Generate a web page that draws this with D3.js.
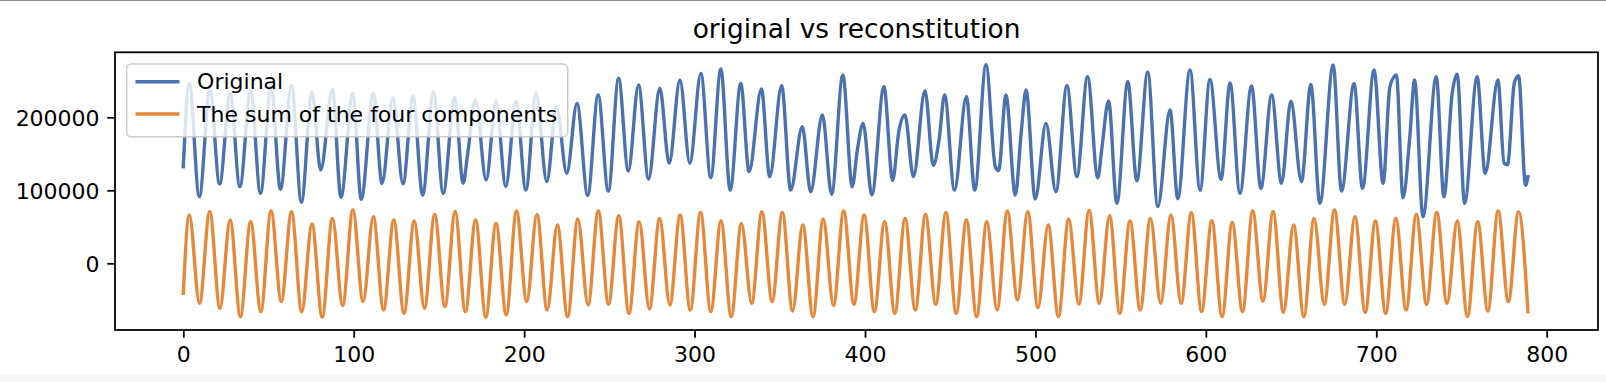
<!DOCTYPE html>
<html><head><meta charset="utf-8">
<script src="https://cdn.jsdelivr.net/npm/d3@7"></script>
<style>body{margin:0;background:#fff;} svg{display:block;font-family:"DejaVu Sans",sans-serif;}</style>
</head><body><svg id="chart" width="1606" height="382"></svg>
<script>
const chartTitle = "original vs reconstitution";
const seriesNames = ["Original", "The sum of the four components"];
const xTicks = [0, 100, 200, 300, 400, 500, 600, 700, 800];
const yTicks = [0, 100000, 200000];

// Original series: key points [index, value]
const originalPoints = [
[0,132300],[3.5,246000],[9.4,91200],[15.6,237000],[21.3,108600],[27.5,233000],[33.2,105000],
[39.5,236500],[45.3,95900],[51.5,244000],[57,101500],[63.5,244000],[69.3,83500],[75.5,235000],
[80.6,127800],[87.5,238000],[92.5,90500],[99.5,233000],[104.4,87700],[111.5,233000],[116.6,109300],
[123,227000],[128.9,109000],[134.8,229000],[140.4,93500],[146.8,234000],[152.5,95900],[159.2,227000],
[164.2,109600],[166.9,150700],[171.5,223700],[177.7,114100],[183.5,222000],[189.2,105000],[195.3,222000],
[201,100400],[207,232900],[213.3,111800],[219,215000],[225,123200],[231,219100],[237.3,93000],
[243.4,230500],[249.4,99000],[255.4,253400],[261.1,126400],[267.1,244300],[273,115500],[279.6,239700],
[285.1,136900],[291.4,251100],[297.2,136900],[303.7,260200],[309.5,117300],[315.4,266100],[320.9,100200],
[327.1,246500],[332,125500],[339.2,238800],[344.1,118700],[351.1,243400],[356.4,100200],[363.2,187200],
[368.1,98100],[375,203100],[380.4,94500],[387,257900],[392.5,104900],[395.5,155100],[398.9,191700],
[404,93600],[411.1,241900],[416.2,113600],[419.9,181400],[423.4,203100],[428.4,118700],[435.2,236300],
[440.1,134000],[443.5,170000],[446.7,230500],[452.5,100200],[459.5,228300],[464.4,100200],[471,272000],
[476.5,132000],[478.4,127000],[482.7,230500],[488.2,93600],[491.7,180200],[494.5,237400],[499.9,88000],
[506.2,191700],[512,98100],[518.5,243400],[524.3,118700],[530.6,255600],[536.6,117000],[539,158000],
[542.9,222500],[547.8,82200],[554.2,248800],[559.5,113000],[565.9,262000],[571.8,77600],[579,209900],
[583.5,88500],[590.7,265000],[596.6,100000],[602.4,252000],[608.9,115000],[614.2,247000],[620,95800],
[626.8,243000],[632.3,102600],[638.6,230500],[644.4,109600],[649.9,222400],[656.1,111800],[661.6,245100],
[666.9,82200],[674.7,271600],[679.6,99000],[687,246500],[691.9,102600],[698.7,264700],[704,109600],
[708,241900],[711.8,257900],[715.7,89800],[719.6,171000],[722.5,251100],[727.4,63800],[735.2,255600],
[739.7,91200],[744.5,232000],[747.5,258900],[751.8,82200],[759.2,255600],[763.9,123200],[771.4,251100],
[775,137000],[777,135000],[781,247000],[783.5,257000],[787.6,107000],[789,118700]
];

// Sum of the four components: first value, cycle peaks, cycle troughs, last value
const sumStart = -41100;
const sumPeaks = [66160,70730,59320,57030,71640,70730,53830,61600,73010,63880,59320,57940,67070,70730,
59320,54750,71640,67000,52460,60690,71640,65250,57030,61600,66160,69810,57940,54750,70730,69810,
52460,60690,71640,66160,57030,61600,67070,69810,59320,57030,71640,70730,52460,60690,72560,65250,
57940,61600,66160,69360,58400,56110,71640,70730,52460,61600,73010,63880,57940,61600,67070,69810,
57940,57030,71640,70730];
const sumTroughs = [-54840,-61690,-73110,-66260,-52550,-66260,-74000,-58030,-52550,-63970,-68540,-61690,
-59400,-66260,-74000,-70830,-52550,-63970,-73110,-57120,-56210,-68540,-62600,-57120,-63970,-66260,
-73110,-54840,-52550,-65340,-73110,-58030,-56210,-66260,-68540,-63970,-56210,-68540,-73110,-63970,
-50270,-60780,-73110,-56210,-54840,-68540,-63970,-54840,-54840,-66260,-73110,-66260,-51640,-67170,
-73110,-56210,-56210,-67170,-68540,-63970,-56210,-54840,-73110,-65340,-52550];
const sumEnd = -66260;
const lastIndex = 789;
const cycleLength = 12;

const colors = ["#4a72b0", "#e6873a"];

const svg = d3.select("#chart");
const W = 1606, H = 382;
const plot = {left: 115, right: 1598, top: 52.3, bottom: 330};

svg.append("rect").attr("x",0).attr("y",0).attr("width",W).attr("height",H).attr("fill","#fff");
svg.append("rect").attr("x",0).attr("y",374).attr("width",W).attr("height",8).attr("fill","#f6f6f6");
svg.append("line").attr("x1",0).attr("x2",W).attr("y1",0.5).attr("y2",0.5).attr("stroke","#888").attr("stroke-width",1);

const x = d3.scaleLinear().domain([0, 800]).range([183.3, 1546.7]);
const y = d3.scaleLinear().domain([0, 200000]).range([263.3, 117.3]);

// build sum series points
const sumPoints = [[0, sumStart]];
sumPeaks.forEach((p, k) => {
  sumPoints.push([k*cycleLength + 3.5, p]);
  if (k < sumTroughs.length) sumPoints.push([k*cycleLength + 9.5, sumTroughs[k]]);
});
sumPoints.push([lastIndex, sumEnd]);

svg.append("defs").append("clipPath").attr("id","clip").append("rect")
  .attr("x",plot.left).attr("y",plot.top).attr("width",plot.right-plot.left).attr("height",plot.bottom-plot.top);

const line = d3.line().x(d => x(d[0])).y(d => y(d[1])).curve(d3.curveMonotoneX);
const g = svg.append("g").attr("clip-path","url(#clip)");
[originalPoints, sumPoints].forEach((pts, i) => {
  g.append("path").attr("d", line(pts)).attr("fill","none").attr("stroke",colors[i])
   .attr("stroke-width",3.4).attr("stroke-linejoin","round").attr("stroke-linecap","square");
});

// axes
const xAxis = d3.axisBottom(x).tickValues(xTicks).tickSize(7.7).tickPadding(7.7).tickFormat(d3.format("d"));
const gx = svg.append("g").attr("transform",`translate(0,${plot.bottom})`).call(xAxis);
const yAxis = d3.axisLeft(y).tickValues(yTicks).tickSize(7.7).tickPadding(7.7).tickFormat(d3.format("d"));
const gy = svg.append("g").attr("transform",`translate(${plot.left},0)`).call(yAxis);
[gx, gy].forEach(ax => {
  ax.select(".domain").remove();
  ax.selectAll(".tick line").attr("stroke","#000").attr("stroke-width",1.76);
  ax.selectAll(".tick text").attr("fill","#000").style("font-size","22px").style("font-family","DejaVu Sans");
});
gx.selectAll(".tick text").attr("dy", null).attr("y", 32.2);
gy.selectAll(".tick text").attr("dy", "8").attr("x", -15.4);

svg.append("rect").attr("x",plot.left).attr("y",plot.top).attr("width",plot.right-plot.left)
  .attr("height",plot.bottom-plot.top).attr("fill","none").attr("stroke","#000").attr("stroke-width",1.76);

// title
svg.append("text").attr("x",(plot.left+plot.right)/2).attr("y",38).attr("text-anchor","middle")
  .style("font-size","26.4px").attr("fill","#000").text(chartTitle);

// legend
const lg = svg.append("g");
lg.append("rect").attr("x",126.7).attr("y",64).attr("width",441).attr("height",72.7).attr("rx",4.4)
  .attr("fill","#fff").attr("fill-opacity",0.8).attr("stroke","#cccccc").attr("stroke-width",1.5);
seriesNames.forEach((name, i) => {
  const cy = 81.7 + i*32.3;
  lg.append("line").attr("x1",135.5).attr("x2",179.5).attr("y1",cy).attr("y2",cy)
    .attr("stroke",colors[i]).attr("stroke-width",3.4);
  lg.append("text").attr("x",197.1).attr("y",cy+7.6).style("font-size","22px").attr("fill","#000").text(name);
});
</script></body></html>
